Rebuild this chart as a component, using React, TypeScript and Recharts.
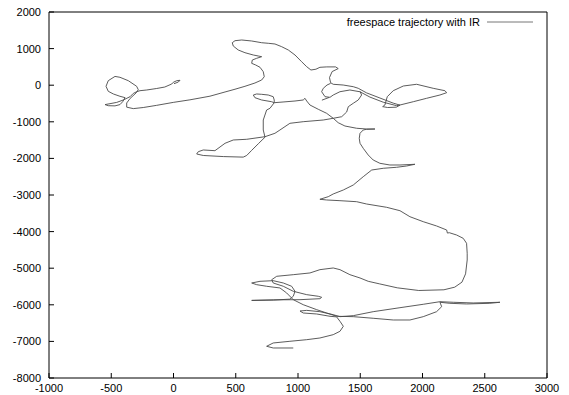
import React from "react";
import { LineChart, Line, XAxis, YAxis, Legend } from "recharts";

// trajectory pieces, [x, y] in mm
const segWest: [number, number][] = [
  [4, 41], [39, 87], [52, 134], [26, 123], [-2, 79], [-14, 33], [-70, -50], [-135, -90],
  [-215, -131], [-269, -150], [-296, -178], [-323, -225], [-349, -314], [-403, -404],
  [-456, -470], [-510, -505], [-550, -530], [-524, -560], [-470, -565], [-430, -530],
  [-408, -450], [-389, -340], [-430, -303], [-483, -240], [-524, -167], [-542, -30],
  [-524, 123], [-470, 240], [-430, 216], [-363, 123], [-296, -30], [-283, -123],
  [-301, -213], [-349, -363], [-376, -486], [-376, -600], [-323, -640], [-243, -610],
  [-135, -550], [-2, -470], [132, -400], [293, -300], [414, -185], [494, -110],
  [574, -30], [654, 60], [708, 142], [729, 232], [721, 369], [695, 489], [660, 552],
  [628, 598], [633, 688], [668, 735], [708, 779], [681, 798], [641, 825], [574, 888],
  [520, 962], [480, 1071], [472, 1161], [494, 1216], [548, 1235], [628, 1208],
  [708, 1161], [761, 1145], [815, 1126], [869, 1052], [922, 962], [976, 825],
  [1029, 642], [1070, 505], [1104, 415], [1144, 437], [1176, 489], [1231, 500],
  [1302, 500], [1323, 454], [1274, 372], [1253, 208], [1262, 68], [1283, 25],
  [1363, 5], [1444, -41], [1484, -85], [1551, -210], [1658, -350], [1765, -490],
  [1819, -545], [1790, -600], [1720, -610], [1680, -585], [1698, -541], [1717, -314],
  [1765, -150], [1846, -22], [1953, 25], [2086, -85], [2180, -150], [2194, -205],
  [2140, -268], [2033, -358], [1926, -451], [1819, -541], [1792, -560], [1685, -465],
  [1578, -325], [1498, -180], [1417, -131], [1337, -178], [1283, -268], [1257, -331],
  [1217, -314], [1190, -178], [1203, -85], [1233, 5], [1262, 50],
];

const segDash: [number, number][] = [[1192, -409], [1249, -336]];

const segCentral: [number, number][] = [
  [1498, -170], [1511, -268], [1484, -404], [1444, -494], [1404, -587], [1391, -732],
  [1351, -861], [1283, -904], [1203, -951], [1042, -997], [935, -1041], [855, -1224],
  [815, -1314], [735, -1407], [588, -1478], [480, -1497], [414, -1587], [333, -1789],
  [239, -1770], [199, -1817], [186, -1880], [239, -1920], [400, -1950], [560, -1965],
  [588, -1920], [628, -1780], [681, -1600], [735, -1420], [721, -1224], [721, -951],
  [748, -678], [775, -631], [809, -478], [809, -404], [801, -314], [761, -268],
  [708, -249], [668, -240], [641, -268], [654, -341], [708, -404], [788, -451],
  [809, -478], [880, -459], [976, -432], [1042, -404], [1056, -358], [1070, -432],
  [1096, -541], [1163, -658], [1230, -768], [1283, -904], [1323, -1025], [1377, -1115],
  [1471, -1177], [1551, -1197], [1618, -1197], [1551, -1205], [1524, -1224],
];

const segSouth: [number, number][] = [
  [1498, -1314], [1492, -1451], [1498, -1587], [1524, -1724], [1564, -1907],
  [1604, -2044], [1658, -2134], [1738, -2180], [1819, -2180], [1939, -2161],
  [1873, -2207], [1792, -2243], [1685, -2270], [1592, -2317], [1524, -2500],
  [1444, -2727], [1364, -2863], [1283, -2972], [1243, -3046], [1176, -3117],
  [1230, -3136], [1337, -3155], [1471, -3183], [1551, -3246], [1712, -3336],
  [1819, -3429], [1899, -3593], [2006, -3729], [2113, -3846], [2194, -3956],
  [2200, -4040], [2215, -4030], [2274, -4093], [2327, -4183], [2354, -4319],
  [2359, -4592], [2359, -4776], [2346, -5154], [2317, -5381], [2259, -5518],
  [2172, -5590], [1970, -5609], [1797, -5536], [1653, -5427], [1564, -5358],
  [1498, -5267], [1417, -5177], [1337, -5040], [1283, -4994], [1176, -5040],
  [1096, -5130], [962, -5177], [829, -5221], [789, -5314], [801, -5404], [882, -5494],
  [962, -5631], [1070, -5723], [1163, -5767], [1190, -5795], [1176, -5833],
  [1016, -5860], [801, -5865], [628, -5880], [801, -5872], [935, -5845], [962, -5767],
  [976, -5631], [949, -5494], [882, -5404], [801, -5341], [695, -5358], [628, -5404],
  [668, -5450], [748, -5494], [855, -5540], [909, -5677], [962, -5860], [1042, -5997],
  [1150, -6133], [1230, -6224], [1310, -6314], [1444, -6324], [1604, -6368],
  [1765, -6415], [1899, -6415], [2006, -6324], [2113, -6188], [2154, -6051],
  [2140, -5931], [2220, -5959], [2354, -5977], [2541, -5959], [2622, -5931],
  [2407, -5950], [2247, -5931], [2140, -5915], [2006, -5986], [1819, -6079],
  [1604, -6188], [1444, -6297], [1337, -6324], [1283, -6270], [1176, -6188],
  [1070, -6152], [1016, -6170], [1042, -6224], [1150, -6251], [1257, -6314],
  [1310, -6330], [1337, -6450], [1364, -6587], [1337, -6724], [1283, -6816],
  [1176, -6907], [1070, -6953], [935, -6997], [801, -7043], [748, -7133],
  [801, -7180], [962, -7180],
];

const xTicks = [-1000, -500, 0, 500, 1000, 1500, 2000, 2500, 3000];
const yTicks = [-8000, -7000, -6000, -5000, -4000, -3000, -2000, -1000, 0, 1000, 2000];
const seriesName = "freespace trajectory with IR";

// central + south are one continuous run; gaps only where the trace jumps
const pieces = [segWest, segDash, [...segCentral, ...segSouth]];
const data: { x: number; y: number | null }[] = [];
pieces.forEach((seg, i) => {
  if (i > 0) data.push({ x: seg[0][0], y: null });
  seg.forEach(([x, y]) => data.push({ x, y }));
});

const FONT = "'Liberation Sans', Arial, Helvetica, sans-serif";
const tickStyle = { fill: "#000", fontSize: 11, fontFamily: FONT };

function LegendBox() {
  return (
    <div style={{ display: "flex", justifyContent: "flex-end", alignItems: "center", fontFamily: FONT, fontSize: 11, color: "#000" }}>
      <span>{seriesName}</span>
      <svg width={46} height={8} style={{ marginLeft: 7 }}>
        <line x1={0} y1={4} x2={46} y2={4} stroke="#777" strokeWidth={1} />
      </svg>
    </div>
  );
}

export default function App() {
  return (
    <div style={{ position: "absolute", left: 0, top: 0, width: 569, height: 395, background: "#fff" }}>
      <LineChart width={569} height={395} data={data} margin={{ top: 11, right: 21, bottom: 0, left: 0 }}>
        <XAxis
          xAxisId="b"
          dataKey="x"
          type="number"
          domain={[-1000, 3000]}
          ticks={xTicks}
          interval={0}
          height={17}
          tickSize={-5}
          tickMargin={11}
          tick={tickStyle}
          stroke="#000"
        />
        <XAxis xAxisId="t" dataKey="x" orientation="top" type="number" domain={[-1000, 3000]} ticks={xTicks} interval={0} height={1} tickSize={-5} tick={false} stroke="#000" />
        <YAxis
          yAxisId="l"
          type="number"
          domain={[-8000, 2000]}
          ticks={yTicks}
          interval={0}
          width={49}
          tickSize={-5}
          tickMargin={13}
          tick={tickStyle}
          stroke="#000"
        />
        <YAxis yAxisId="r" orientation="right" type="number" domain={[-8000, 2000]} ticks={yTicks} interval={0} width={1} tickSize={-5} tick={false} stroke="#000" />
        <Legend
          layout="vertical"
          align="center"
          verticalAlign="middle"
          content={() => <LegendBox />}
          wrapperStyle={{ top: 15, left: 300, width: 233, height: 14, lineHeight: "14px" }}
        />
        {/* invisible copy so the mirrored top/right axes get drawn */}
        <Line
          xAxisId="t"
          yAxisId="r"
          dataKey="y"
          stroke="transparent"
          dot={false}
          activeDot={false}
          legendType="none"
          isAnimationActive={false}
        />
        <Line
          xAxisId="b"
          yAxisId="l"
          dataKey="y"
          name={seriesName}
          stroke="#4a4a4a"
          strokeWidth={0.9}
          dot={false}
          activeDot={false}
          connectNulls={false}
          isAnimationActive={false}
        />
      </LineChart>
    </div>
  );
}
